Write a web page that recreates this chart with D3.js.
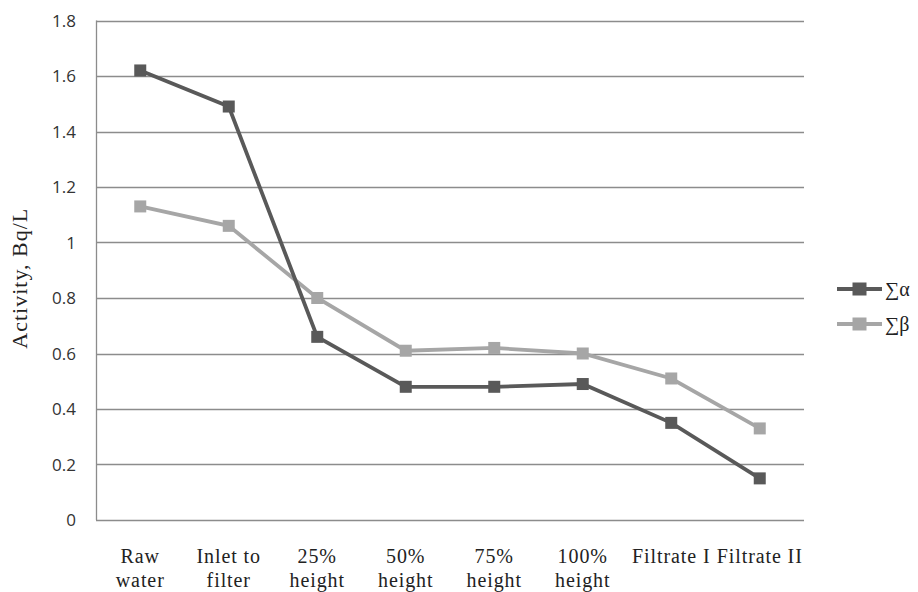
<!DOCTYPE html>
<html lang="en">
<head>
<meta charset="UTF-8">
<title>Activity, Bq/L</title>
<script src="https://d3js.org/d3.v7.min.js"></script>
<style>
  body { margin: 0; overflow: hidden; background: #fff; }
  .ytick text { font-family: 'Open Sans', sans-serif; font-size: 17px; fill: #333; }
  .xlab { font-family: 'Liberation Serif', serif; font-size: 20px; letter-spacing: 0.9px; fill: #222; }
  .ytitle { font-family: 'Liberation Serif', serif; font-size: 22px; letter-spacing: 1px; fill: #222; }
  .legend text { font-family: 'Liberation Serif', 'DejaVu Serif', serif; font-size: 20px; fill: #222; }
</style>
</head>
<body>
<div id="chart"></div>
<script>
  const categories = [["Raw", "water"], ["Inlet to", "filter"], ["25%", "height"], ["50%", "height"],
    ["75%", "height"], ["100%", "height"], ["Filtrate I"], ["Filtrate II"]];
  const alphaValues = [1.62, 1.49, 0.66, 0.48, 0.48, 0.49, 0.35, 0.15];
  const betaValues = [1.13, 1.06, 0.80, 0.61, 0.62, 0.60, 0.51, 0.33];
  const yTicks = [0, 0.2, 0.4, 0.6, 0.8, 1, 1.2, 1.4, 1.6, 1.8];

  const series = [
    { name: "∑α", values: alphaValues, color: "#595959" },
    { name: "∑β", values: betaValues, color: "#a6a6a6" }
  ];

  const width = 918, height = 592;
  const margin = { top: 20.5, right: 114, bottom: 72, left: 96 };

  const svg = d3.select("#chart").append("svg")
      .attr("width", width)
      .attr("height", height);

  const x = d3.scaleBand()
      .domain(d3.range(categories.length))
      .range([margin.left, width - margin.right]);

  const y = d3.scaleLinear()
      .domain([0, 1.8])
      .range([height - margin.bottom, margin.top]);

  // gridlines
  svg.append("g")
    .selectAll("line")
    .data(yTicks)
    .enter().append("line")
      .attr("x1", margin.left)
      .attr("x2", width - margin.right)
      .attr("y1", d => Math.round(y(d)) + 0.5)
      .attr("y2", d => Math.round(y(d)) + 0.5)
      .style("stroke", "#8c8c8c")
      .style("stroke-width", 1.3);

  // left axis line
  svg.append("line")
      .attr("x1", margin.left + 0.5).attr("x2", margin.left + 0.5)
      .attr("y1", y(1.8)).attr("y2", y(0))
      .style("stroke", "#8c8c8c")
      .style("stroke-width", 1.3);

  // y tick labels
  svg.append("g").attr("class", "ytick")
    .selectAll("text")
    .data(yTicks)
    .enter().append("text")
      .attr("x", 76)
      .attr("y", d => y(d) + 6)
      .attr("text-anchor", "end")
      .text(d => d);

  // x labels
  const xl = svg.append("g");
  categories.forEach((c, i) => {
    const t = xl.append("text")
      .attr("class", "xlab")
      .attr("text-anchor", "middle")
      .attr("x", x(i) + x.bandwidth() / 2)
      .attr("y", 563);
    c.forEach((line, j) => {
      t.append("tspan")
        .attr("x", x(i) + x.bandwidth() / 2)
        .attr("dy", j === 0 ? 0 : 24)
        .text(line);
    });
  });

  // y axis title
  svg.append("text")
      .attr("class", "ytitle")
      .attr("transform", `translate(27,${(y(0) + y(1.8)) / 2 + 8}) rotate(-90)`)
      .attr("text-anchor", "middle")
      .text("Activity, Bq/L");

  const line = d3.line()
      .x((d, i) => x(i) + x.bandwidth() / 2)
      .y(d => y(d));

  const s = svg.append("g")
    .selectAll("g")
    .data(series.slice().reverse())
    .enter().append("g");

  s.append("path")
      .attr("d", d => line(d.values))
      .style("fill", "none")
      .style("stroke", d => d.color)
      .style("stroke-width", 3.8);

  s.each(function(d) {
    d3.select(this).selectAll("rect")
      .data(d.values)
      .enter().append("rect")
        .attr("x", (v, i) => x(i) + x.bandwidth() / 2 - 6)
        .attr("y", v => y(v) - 6)
        .attr("width", 12)
        .attr("height", 12)
        .style("fill", d.color);
  });

  // legend
  const lg = svg.append("g").attr("class", "legend")
    .selectAll("g")
    .data(series)
    .enter().append("g")
      .attr("transform", (d, i) => `translate(837,${289 + i * 35})`);

  lg.append("line")
      .attr("x1", 0).attr("x2", 45)
      .style("stroke", d => d.color)
      .style("stroke-width", 3.8);

  lg.append("rect")
      .attr("x", 15.5).attr("y", -6.5)
      .attr("width", 14).attr("height", 13)
      .style("fill", d => d.color);

  lg.append("text")
      .attr("x", 48)
      .attr("y", 7)
      .text(d => d.name);
</script>
</body>
</html>
